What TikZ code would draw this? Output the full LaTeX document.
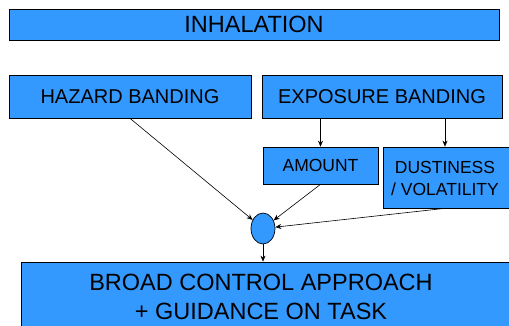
\documentclass[tikz,border=0pt]{standalone}
\usepackage{fontspec}
\setmainfont{Liberation Sans}
\usetikzlibrary{shapes.geometric,arrows.meta}
\definecolor{boxblue}{HTML}{3399FF}
\tikzset{
  box/.style={draw=black, line width=0.7pt, fill=boxblue, inner sep=0pt, rectangle},
  txt/.style={inner sep=0pt, align=center, text=black},
  arr/.style={draw=black, line width=0.6pt, -{Stealth[length=6pt,width=5pt]}},
}
\begin{document}
\begin{tikzpicture}[x=1pt,y=-1pt]
\clip (0,0) rectangle (509,326);
\fill[white] (0,0) rectangle (509,326);
% boxes
\node[box, minimum width=490pt, minimum height=31pt, font=\fontsize{23.5}{28}\selectfont] (inh) at (254,24.5) {INHALATION};
\node[box, minimum width=242pt, minimum height=43pt, font=\fontsize{20}{24}\selectfont] (haz) at (130,96.5) {HAZARD BANDING};
\node[box, minimum width=240pt, minimum height=43pt, font=\fontsize{20}{24}\selectfont] (expo) at (382,96.5) {EXPOSURE BANDING};
\node[box, minimum width=115pt, minimum height=37pt, font=\fontsize{17.5}{21}\selectfont] (amount) at (320.5,165.5) {AMOUNT};
\node[box, minimum width=140pt, minimum height=61pt] (dust) at (453,177.5) {};
\node[txt, font=\fontsize{17.5}{22}\selectfont] (dusttext) at (445,178) {DUSTINESS\\/ VOLATILITY};
\node[box, ellipse, minimum width=24pt, minimum height=31pt] (circ) at (263,228.5) {};
\node[box, minimum width=510pt, minimum height=90pt] (bottom) at (276,307) {};
\node[txt, font=\fontsize{23.5}{29}\selectfont] (bottomtext) at (261,297) {BROAD CONTROL APPROACH\\+ GUIDANCE ON TASK};
% connectors
\draw[arr] (haz.south) -- (circ);
\draw[arr] (amount.south) -- (circ);
\draw[arr] (dusttext |- dust.south) -- (circ);
\draw[arr] (amount.north |- expo.south) -- (amount.north);
\draw[arr] (dusttext |- expo.south) -- (dusttext |- dust.north);
\draw[arr] (circ.south) -- (circ.south |- bottom.north);
\end{tikzpicture}
\end{document}
